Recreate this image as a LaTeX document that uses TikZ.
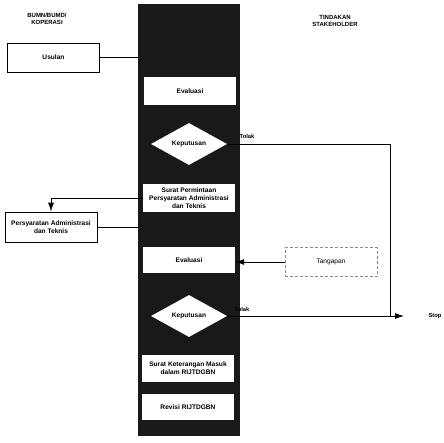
\documentclass[tikz,border=0pt]{standalone}
\usepackage{fontspec}
\setmainfont{Liberation Sans}
\usetikzlibrary{arrows.meta,shapes.geometric}

\begin{document}
\begin{tikzpicture}[
    x=1pt, y=-1pt,
    lane/.style   = {fill=black!90, minimum width=102pt, minimum height=432pt,
                     inner sep=0pt},
    task/.style   = {fill=white, minimum width=92pt, minimum height=28pt,
                     inner sep=1pt, align=center,
                     font=\fontsize{6.6}{7.8}\selectfont\bfseries},
    party/.style  = {task, draw, line width=0.8pt},
    extern/.style = {task, draw=black!45, densely dashed,
                     font=\fontsize{6.6}{7.8}\selectfont},
    decide/.style = {diamond, fill=white, minimum width=76pt, minimum height=42pt,
                     inner sep=0pt, font=\fontsize{6.6}{7.8}\selectfont\bfseries},
    head/.style   = {align=center, font=\fontsize{6}{7.6}\selectfont\bfseries},
    note/.style   = {font=\fontsize{5.8}{6.8}\selectfont\bfseries},
    line/.style   = {line width=0.9pt},
    arr/.style    = {line, -{Latex[length=9pt, width=6pt]}},
]
\useasboundingbox (0,0) rectangle (444,442);

% --- dark swim lane ---
\node[lane] (lane) at (189,220) {};

% --- column headings ---
\node[head] (hbumn) at (47,19) {BUMN/BUMD/\\KOPERASI};
\node[head] (hstake) at (335,21) {TINDAKAN\\STAKEHOLDER};

% --- left side ---
\node[party, minimum height=29pt] (usulan) at (53.5,57.5) {Usulan};
\node[party, minimum height=30pt] (syarat) at (51,227)
    {Persyaratan Administrasi\\dan Teknis};

% --- inside the lane ---
\node[task] (eval1) at (190,91) {Evaluasi};
\node[decide] (dec1) at (189,144) {Keputusan};
\node[task] (minta) at (189,198)
    {Surat Permintaan\\Persyaratan Administrasi\\dan Teknis};
\node[task, minimum height=26pt] (eval2) at (189,260) {Evaluasi};
\node[decide] (dec2) at (189,316) {Keputusan};
\node[task, minimum height=27pt] (masuk) at (188,368)
    {Surat Keterangan Masuk\\dalam RIJTDGBN};
\node[task, minimum height=26pt] (revisi) at (188,407) {Revisi RIJTDGBN};

% --- stakeholder side ---
\node[extern, minimum height=29pt] (tangapan) at (331,262) {Tangapan};
\node[note] (stop) at (435,316) {Stop};
\coordinate (join) at (390,316);
\coordinate (tip) at (404,316);

% --- labels on the rejection lines ---
\node[note] (tolak1) at (247,136) {Tolak};
\node[note] (tolak2) at (242,309) {Tolak};

% --- connectors ---
\draw[line] (usulan.east) -- (usulan.east -| lane.west);
\draw[line] (dec1.east) -| (join);
\draw[arr] (minta.west) -| (syarat.north);
\draw[line] (syarat.east) -- (syarat.east -| lane.west);
\draw[arr] (tangapan.west) -- (tangapan.west -| eval2.east);
\draw[arr] (dec2.east) -- (tip);

\end{tikzpicture}
\end{document}
